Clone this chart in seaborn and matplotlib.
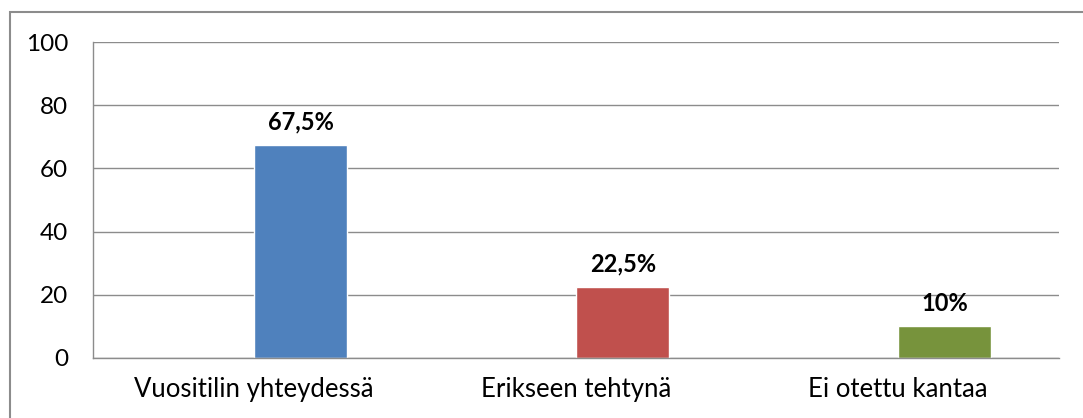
import matplotlib
matplotlib.use("Agg")
import matplotlib.pyplot as plt
import seaborn as sns
import pandas as pd
from matplotlib.patches import Rectangle

categories = ["Vuositilin yhteydessä", "Erikseen tehtynä", "Ei otettu kantaa"]
values = [67.5, 22.5, 10]
labels = ["67,5%", "22,5%", "10%"]
colors = ["#4F81BD", "#C0504D", "#77933C"]

sns.set_style("white")
plt.rcParams["font.family"] = ["Lato", "DejaVu Sans"]

df = pd.DataFrame({"cat": categories, "val": values})

fig = plt.figure(figsize=(10.83, 4.18), dpi=100)
ax = fig.add_axes([93 / 1083, 1 - 358 / 418, (1059 - 93) / 1083, (358 - 42) / 418])

sns.barplot(data=df, x="cat", y="val", hue="cat", palette=colors, legend=False,
            width=0.29, saturation=1, ax=ax)

# bars sit right of the category centre, as in the original
shift = 0.145
for p in ax.patches:
    p.set_x(p.get_x() + shift)

ax.set_ylim(0, 100)
ax.set_xlim(-0.5, 2.5)
ax.set_yticks(range(0, 101, 20))
ax.grid(axis="y", color="#8c8c8c", linewidth=1)
ax.set_axisbelow(True)
ax.set_xlabel("")
ax.set_ylabel("")

for s in ["top", "right"]:
    ax.spines[s].set_visible(False)
for s in ["left", "bottom"]:
    ax.spines[s].set_color("#8c8c8c")
    ax.spines[s].set_linewidth(1)

ax.tick_params(axis="y", which="major", length=6, color="#8c8c8c", labelsize=17.5,
               pad=12, labelcolor="black")
ax.tick_params(axis="x", which="major", length=0, labelsize=18.5, pad=14,
               labelcolor="black")
ax.set_xticks([-0.5, 0.5, 1.5, 2.5], minor=True)
ax.tick_params(axis="x", which="minor", length=6, color="#8c8c8c", direction="out")

for i, (v, lab) in enumerate(zip(values, labels)):
    ax.text(i + shift, v + 3.5, lab, ha="center", va="bottom", fontsize=17,
            fontweight="bold", color="black")

fig.patches.append(Rectangle((10 / 1083, -0.1), 1.2, 1 - 12 / 418 + 0.1,
                             transform=fig.transFigure, fill=False,
                             edgecolor="#8c8c8c", linewidth=1.5))

fig.savefig("out.png", dpi=100)
